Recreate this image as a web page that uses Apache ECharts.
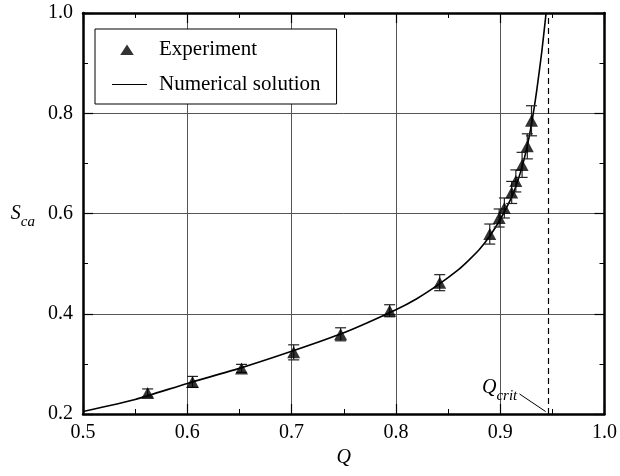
<!DOCTYPE html>
<html>
<head>
<meta charset="utf-8">
<script src="https://cdn.jsdelivr.net/npm/echarts@6/dist/echarts.min.js"></script>
<style>html,body{margin:0;padding:0;background:#fff}#c{width:620px;height:476px}</style>
</head>
<body>
<div id="c"></div>
<script>
// Experimental points (Q, S_ca) and error half-widths
const expQ   = [0.562, 0.605, 0.652, 0.702, 0.747, 0.794, 0.842, 0.890, 0.899, 0.904, 0.911, 0.915, 0.921, 0.926, 0.930];
const expS   = [0.242, 0.264, 0.291, 0.323, 0.359, 0.406, 0.462, 0.559, 0.591, 0.611, 0.642, 0.665, 0.697, 0.734, 0.785];
const expErr = [0.008, 0.011, 0.008, 0.015, 0.013, 0.012, 0.016, 0.020, 0.018, 0.020, 0.022, 0.022, 0.025, 0.025, 0.030];
// Numerical solution
const curveQ = [0.50, 0.55, 0.60, 0.65, 0.70, 0.75, 0.80, 0.82, 0.84, 0.86, 0.87, 0.88, 0.89, 0.90, 0.91, 0.915, 0.92, 0.925, 0.93, 0.935, 0.94, 0.944];
const curveS = [0.205, 0.229, 0.261, 0.291, 0.325, 0.362, 0.408, 0.430, 0.457, 0.488, 0.507, 0.528, 0.555, 0.588, 0.628, 0.654, 0.686, 0.726, 0.778, 0.845, 0.925, 1.000];
// Critical Q and its leader line (data units)
const qCrit = 0.946;
const leader = [[0.9185, 0.240], [0.9435, 0.205]];
const xTicks = [0.5, 0.6, 0.7, 0.8, 0.9, 1.0];
const yTicks = [0.2, 0.4, 0.6, 0.8, 1.0];

const FONT = 'Liberation Serif';
const chart = echarts.init(document.getElementById('c'), null, {renderer: 'canvas'});

const axisCommon = {
  axisLine: {show: true, onZero: false, lineStyle: {color: '#000', width: 2.5}},
  axisTick: {show: true, inside: true, length: 10, lineStyle: {color: '#000', width: 1.2}},
  minorTick: {show: true, splitNumber: 2, length: 5, lineStyle: {color: '#000', width: 1}},
  minorSplitLine: {show: false}
};

// legend icons (box 42 x 14): triangle marker and short line
const ICON_TRI  = 'path://M0,0M42,14M15,2L21.8,12.5L8.2,12.5Z';
const ICON_LINE = 'path://M0,0M42,14M0,6.4L35,6.4L35,7.6L0,7.6Z';

const option = {
  animation: false,
  backgroundColor: '#fff',
  textStyle: {fontFamily: FONT},
  grid: {left: 83, right: 12, top: 13, bottom: 62, containLabel: false},
  legend: {
    orient: 'vertical',
    left: 95, top: 29,
    padding: [10, 16, 9, 17],
    itemWidth: 42, itemHeight: 14, itemGap: 14,
    backgroundColor: '#fff',
    borderColor: '#000', borderWidth: 1, borderRadius: 0,
    textStyle: {fontFamily: FONT, fontSize: 21, color: '#000'},
    data: [{name: 'Experiment', icon: ICON_TRI}, {name: 'Numerical solution', icon: ICON_LINE}]
  },
  xAxis: [
    Object.assign({
      type: 'value', position: 'bottom', min: xTicks[0], max: xTicks[xTicks.length - 1], interval: 0.1,
      name: 'Q', nameLocation: 'middle', nameGap: 30,
      nameTextStyle: {fontFamily: FONT, fontSize: 20, fontStyle: 'italic', color: '#000'},
      axisLabel: {show: true, margin: 9, fontFamily: FONT, fontSize: 20, color: '#000', formatter: v => v.toFixed(1)},
      splitLine: {show: true, lineStyle: {color: '#555', width: 1}}
    }, axisCommon),
    Object.assign({
      type: 'value', position: 'top', min: xTicks[0], max: xTicks[xTicks.length - 1], interval: 0.1,
      axisLabel: {show: false}, splitLine: {show: false}
    }, axisCommon)
  ],
  yAxis: [
    Object.assign({
      type: 'value', position: 'left', min: yTicks[0], max: yTicks[yTicks.length - 1], interval: 0.2,
      name: '{s|S}{sub|ca}', nameLocation: 'middle', nameRotate: 0, nameGap: 48,
      nameTextStyle: {
        rich: {
          s: {fontFamily: FONT, fontSize: 20, fontStyle: 'italic', color: '#000', verticalAlign: 'bottom'},
          sub: {fontFamily: FONT, fontSize: 15, fontStyle: 'italic', color: '#000', verticalAlign: 'bottom', padding: [0, 0, -6, 0]}
        }
      },
      axisLabel: {show: true, margin: 10, fontFamily: FONT, fontSize: 20, color: '#000', formatter: v => v.toFixed(1)},
      splitLine: {show: true, lineStyle: {color: '#555', width: 1}}
    }, axisCommon),
    Object.assign({
      type: 'value', position: 'right', min: yTicks[0], max: yTicks[yTicks.length - 1], interval: 0.2,
      axisLabel: {show: false}, splitLine: {show: false}
    }, axisCommon)
  ],
  series: [
    {
      name: 'Numerical solution', type: 'line', xAxisIndex: 0, yAxisIndex: 0,
      data: curveQ.map((q, i) => [q, curveS[i]]),
      symbol: 'none', smooth: 0.2, clip: true,
      lineStyle: {color: '#000', width: 1.6}, itemStyle: {color: '#000'},
      z: 3,
      markLine: {
        silent: true, symbol: ['none', 'none'], animation: false,
        label: {show: false},
        data: [
          [{coord: [qCrit, yTicks[0]], lineStyle: {type: [6, 4], color: '#000', width: 1.2}},
           {coord: [qCrit, yTicks[yTicks.length - 1]]}],
          [{coord: leader[0], lineStyle: {type: 'solid', color: '#000', width: 1}},
           {coord: leader[1]}]
        ]
      }
    },
    {
      name: 'errorbars', type: 'custom', xAxisIndex: 0, yAxisIndex: 0,
      data: expQ.map((q, i) => [q, expS[i] - expErr[i], expS[i] + expErr[i]]),
      encode: {x: 0, y: [1, 2]},
      z: 4,
      renderItem: function (params, api) {
        const lo = api.coord([api.value(0), api.value(1)]);
        const hi = api.coord([api.value(0), api.value(2)]);
        const hw = 5.5;
        const st = {stroke: '#222', lineWidth: 1.2};
        return {
          type: 'group',
          children: [
            {type: 'line', shape: {x1: lo[0], y1: lo[1], x2: hi[0], y2: hi[1]}, style: st},
            {type: 'line', shape: {x1: lo[0] - hw, y1: lo[1], x2: lo[0] + hw, y2: lo[1]}, style: st},
            {type: 'line', shape: {x1: hi[0] - hw, y1: hi[1], x2: hi[0] + hw, y2: hi[1]}, style: st}
          ]
        };
      }
    },
    {
      name: 'Experiment', type: 'scatter', xAxisIndex: 0, yAxisIndex: 0,
      data: expQ.map((q, i) => [q, expS[i]]),
      symbol: 'triangle', symbolSize: [13, 12],
      itemStyle: {color: '#000'},
      z: 5
    }
  ],
  graphic: [
    {
      type: 'text', left: 482, top: 378, z: 10,
      style: {
        text: '{q|Q}{c|crit}',
        rich: {
          q: {fontFamily: FONT, fontSize: 20, fontStyle: 'italic', fill: '#000', verticalAlign: 'bottom'},
          c: {fontFamily: FONT, fontSize: 15, fontStyle: 'italic', fill: '#000', verticalAlign: 'bottom', padding: [0, 0, -6, 0]}
        }
      }
    }
  ]
};
chart.setOption(option);
</script>
</body>
</html>
